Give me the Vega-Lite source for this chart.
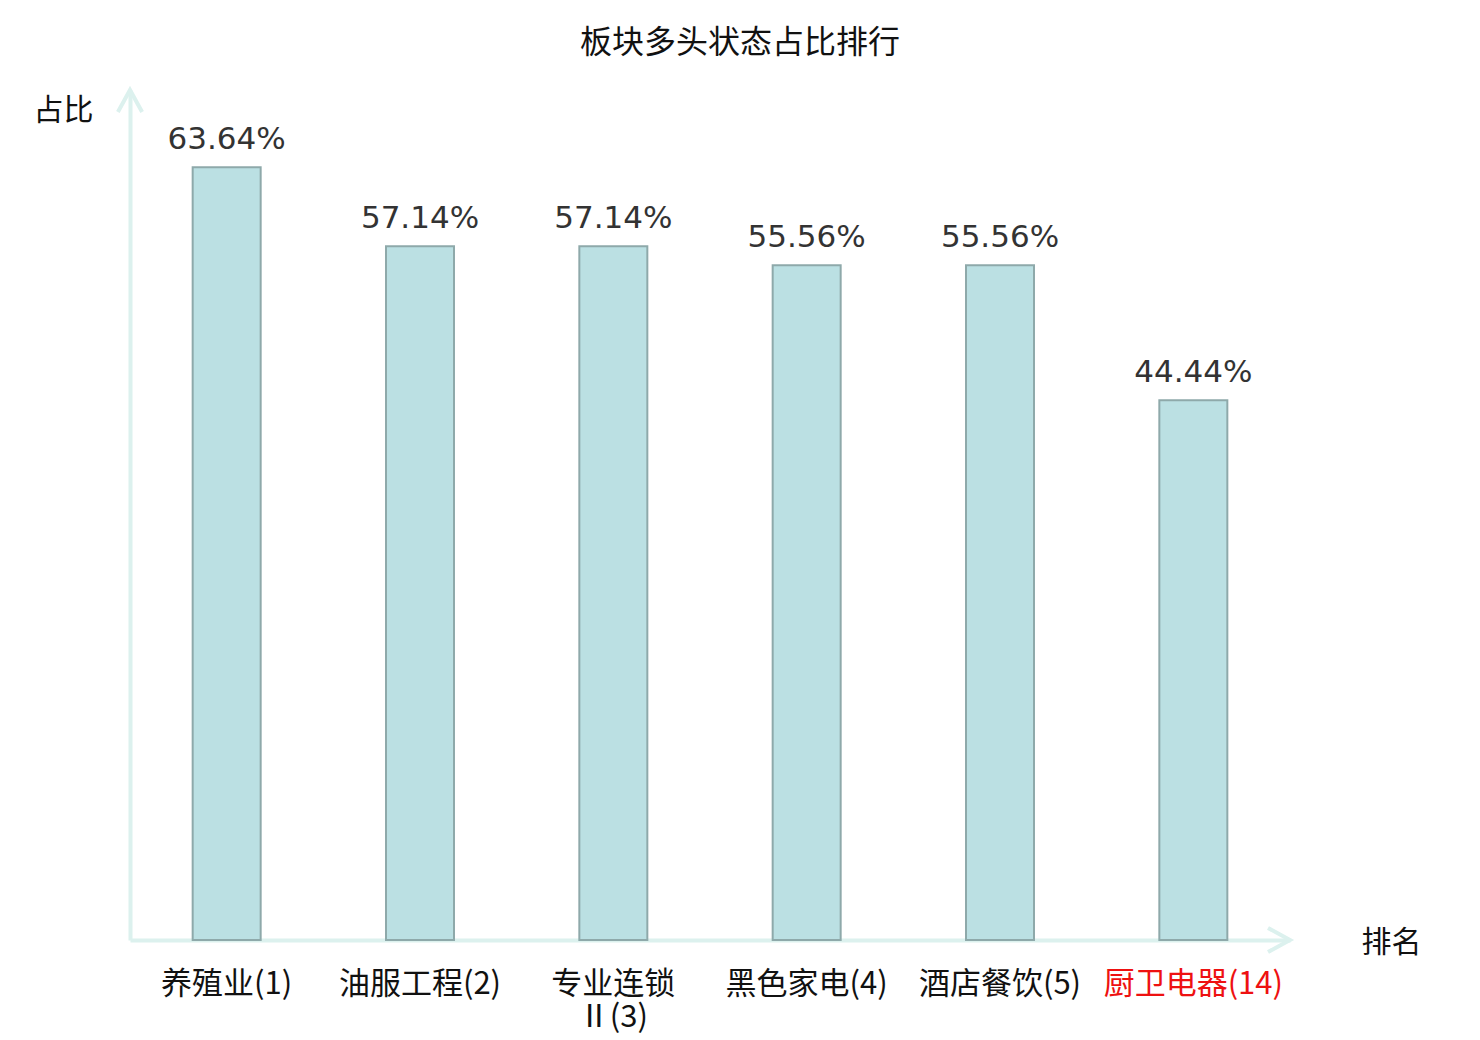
{
  "$schema": "https://vega.github.io/schema/vega-lite/v6.json",
  "autosize": "none",
  "width": 1160,
  "height": 850,
  "padding": {"left": 130, "top": 90, "right": 190, "bottom": 100},
  "background": "white",
  "title": {
    "text": "板块多头状态占比排行",
    "font": "Noto Sans CJK SC",
    "fontSize": 32,
    "fontWeight": "normal",
    "color": "#111111",
    "anchor": "middle",
    "frame": "group",
    "dx": 30,
    "offset": 22
  },
  "data": {
    "values": [
      {"sector": "养殖业(1)", "ratio": 0.6364},
      {"sector": "油服工程(2)", "ratio": 0.5714},
      {"sector": "专业连锁Ⅱ(3)", "ratio": 0.5714},
      {"sector": "黑色家电(4)", "ratio": 0.5556},
      {"sector": "酒店餐饮(5)", "ratio": 0.5556},
      {"sector": "厨卫电器(14)", "ratio": 0.4444}
    ]
  },
  "layer": [
    {
      "mark": {"type": "bar", "width": 68, "fill": "#bbe0e3", "stroke": "#8ea9aa", "strokeWidth": 2},
      "encoding": {
        "x": {
          "field": "sector",
          "type": "nominal",
          "sort": null,
          "scale": {"paddingInner": 0, "paddingOuter": 0},
          "axis": {
            "title": "排名",
            "titleFont": "Noto Sans CJK SC",
            "titleFontSize": 30,
            "titleFontWeight": "normal",
            "titleColor": "#111111",
            "titleX": 1261,
            "titleY": 2,
            "titleAlign": "center",
            "titleBaseline": "middle",
            "labelAngle": 0,
            "labelFont": "Noto Sans CJK SC",
            "labelFontSize": 31,
            "labelColor": {
              "condition": {"test": "indexof(datum.value, '(14)') >= 0", "value": "#ee1111"},
              "value": "#111111"
            },
            "labelExpr": "indexof(datum.value, 'Ⅱ') > 0 ? [substring(datum.value, 0, indexof(datum.value, 'Ⅱ')), substring(datum.value, indexof(datum.value, 'Ⅱ'))] : datum.value",
            "labelLineHeight": 33,
            "labelBaseline": "top",
            "labelPadding": 29,
            "labelLimit": 0,
            "ticks": false,
            "domainColor": "#dcf1ee",
            "domainWidth": 4
          }
        },
        "y": {
          "field": "ratio",
          "type": "quantitative",
          "scale": {"domain": [0, 0.7], "nice": false},
          "axis": {
            "title": "占比",
            "titleFont": "Noto Sans CJK SC",
            "titleFontSize": 30,
            "titleFontWeight": "normal",
            "titleColor": "#111111",
            "titleAngle": 0,
            "titleX": -67,
            "titleY": 20,
            "titleAlign": "center",
            "titleBaseline": "middle",
            "labels": false,
            "ticks": false,
            "grid": false,
            "domainColor": "#dcf1ee",
            "domainWidth": 4
          }
        }
      }
    },
    {
      "mark": {
        "type": "text",
        "font": "DejaVu Sans",
        "fontSize": 31,
        "color": "#333333",
        "baseline": "alphabetic",
        "dy": -18
      },
      "encoding": {
        "x": {"field": "sector", "type": "nominal", "sort": null},
        "y": {"field": "ratio", "type": "quantitative"},
        "text": {"field": "ratio", "type": "quantitative", "format": ".2%"}
      }
    },
    {
      "data": {"values": [{"tip": 0.7}]},
      "mark": {
        "type": "point",
        "filled": false,
        "strokeWidth": 4,
        "opacity": 1
      },
      "encoding": {
        "x": {"value": 0},
        "y": {"field": "tip", "type": "quantitative"},
        "shape": {"value": "M-0.55,1L0,0L0.55,1"},
        "size": {"value": 1936},
        "color": {"value": "#dcf1ee"}
      }
    },
    {
      "data": {"values": [{"tip": 0}]},
      "mark": {
        "type": "point",
        "filled": false,
        "strokeWidth": 4,
        "opacity": 1
      },
      "encoding": {
        "x": {"value": "width"},
        "y": {"field": "tip", "type": "quantitative"},
        "shape": {"value": "M-1,-0.55L0,0L-1,0.55"},
        "size": {"value": 1936},
        "color": {"value": "#dcf1ee"}
      }
    }
  ],
  "config": {
    "view": {"stroke": null}
  }
}
